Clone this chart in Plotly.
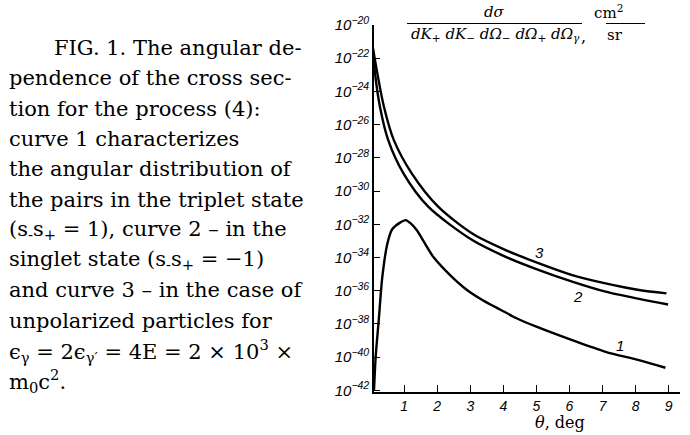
import plotly.graph_objects as go

# ---- data ----
theta_1 = [0.09, 0.14, 0.24, 0.34, 0.49, 0.64, 0.88, 1.05, 1.2, 1.38, 1.88, 2.39, 2.89, 3.39, 3.9, 4.4, 5.0, 6.08, 7.09, 8.1, 8.9]
sigma_1 = [1.0e-42, 1.0e-40, 2.5e-38, 6.3e-36, 6.3e-34, 5.0e-33, 1.26e-32, 1.78e-32, 1.12e-32, 4.5e-33, 1.1e-34,
           8.7e-36, 1.15e-36, 2.6e-37, 7.4e-38, 2.2e-38, 6.8e-39, 1.05e-39, 2.1e-40, 6.6e-41, 2.3e-41]

theta_2 = [0.05, 0.12, 0.27, 0.52, 0.98, 1.73, 3.06, 4.07, 5.08, 6.08, 7.09, 8.1, 8.98]
sigma_2 = [5.0e-22, 1.26e-23, 1.2e-25, 1.17e-27, 1.17e-29, 1.15e-31, 1.12e-33, 1.1e-34, 1.74e-35, 3.5e-36,
           8.7e-37, 3.2e-37, 1.48e-37]

theta_3 = [0.05, 0.19, 0.39, 0.69, 1.23, 2.03, 3.06, 4.07, 5.08, 6.08, 7.09, 8.1, 8.93]
sigma_3 = [5.0e-22, 1.26e-23, 1.2e-25, 1.17e-27, 1.17e-29, 1.15e-31, 2.8e-33, 2.8e-34, 4.4e-35, 8.7e-36,
           2.75e-36, 1.1e-36, 6.9e-37]

x_ticks = [1, 2, 3, 4, 5, 6, 7, 8, 9]
y_tick_exps = [-20, -22, -24, -26, -28, -30, -32, -34, -36, -38, -40, -42]

curve_labels = ["1", "2", "3"]

caption_lines = [
    "FIG. 1. The angular de-",
    "pendence of the cross sec-",
    "tion for the process (4):",
    "curve 1 characterizes",
    "the angular distribution of",
    "the pairs in the triplet state",
    "(s<sub>-</sub>s<sub>+</sub> = 1), curve 2 \u2013 in the",
    "singlet state (s<sub>-</sub>s<sub>+</sub> = \u22121)",
    "and curve 3 \u2013 in the case of",
    "unpolarized particles for",
    "\u03f5<sub>\u03b3</sub> = 2\u03f5<sub>\u03b3\u2032</sub> = 4E = 2 \u00d7 10<sup>3</sup> \u00d7",
    "m<sub>0</sub>c<sup>2</sup>.",
]

# ---- layout geometry (page pixels) ----
W, H = 690, 435
L, R, T, B = 374, 10, 25, 43
PW, PH = W - L - R, H - T - B


def px(xp):
    return (xp - L) / PW


def py(yp):
    return (H - B - yp) / PH


fig = go.Figure()
for th, sg in [(theta_1, sigma_1), (theta_2, sigma_2), (theta_3, sigma_3)]:
    fig.add_trace(go.Scatter(x=th, y=sg, mode="lines",
                             line=dict(color="black", width=2.4, shape="spline", smoothing=0.8),
                             showlegend=False, hoverinfo="skip"))

ann = []
lab_pos = [(7.52, -39.3), (6.26, -36.35), (5.1, -33.7)]
for t, (x, y) in zip(curve_labels, lab_pos):
    ann.append(dict(x=x, y=y, xref="x", yref="y", text=t, showarrow=False,
                    font=dict(family="Liberation Sans", size=15, color="black", style="italic")))

cap_font = dict(family="DejaVu Serif", size=21, color="black")
for i, line in enumerate(caption_lines):
    xp = 52 if i == 0 else 7
    yp = 48 + i * 30.3
    ann.append(dict(x=px(xp), y=py(yp), xref="paper", yref="paper", xanchor="left", yanchor="middle",
                    text=line, showarrow=False, font=cap_font))

frac_font = dict(family="DejaVu Serif", size=15, color="black", style="italic")
ann.append(dict(x=px(494), y=py(12), xref="paper", yref="paper", text="d\u03c3", showarrow=False, font=frac_font,
                yanchor="middle"))
ann.append(dict(x=px(495), y=py(35), xref="paper", yref="paper", yanchor="middle",
                text="dK<sub>+</sub> dK<sub>\u2212</sub> d\u03a9<sub>\u2212</sub> d\u03a9<sub>+</sub> d\u03a9<sub>\u03b3</sub>",
                showarrow=False, font=dict(family="DejaVu Serif", size=15, color="black", style="italic")))
ann.append(dict(x=px(588), y=py(36), xref="paper", yref="paper", text=",", showarrow=False, yanchor="middle",
                font=dict(family="DejaVu Serif", size=16, color="black")))
ann.append(dict(x=px(625), y=py(12), xref="paper", yref="paper", text="cm<sup>2</sup>", showarrow=False,
                yanchor="middle", font=dict(family="DejaVu Serif", size=15, color="black")))
ann.append(dict(x=px(625), y=py(35), xref="paper", yref="paper", text="sr", showarrow=False, yanchor="middle",
                font=dict(family="DejaVu Serif", size=15, color="black")))
ann.append(dict(x=px(560), y=py(422), xref="paper", yref="paper", text="<i>\u03b8</i>, deg", showarrow=False,
                yanchor="middle", font=dict(family="DejaVu Serif", size=16, color="black")))

shapes = [
    dict(type="line", xref="paper", yref="paper", x0=px(407), x1=px(582), y0=py(23.5), y1=py(23.5),
         line=dict(color="black", width=1.2)),
    dict(type="line", xref="paper", yref="paper", x0=px(606), x1=px(645), y0=py(23.5), y1=py(23.5),
         line=dict(color="black", width=1.2)),
]

fig.update_layout(
    width=W, height=H, margin=dict(l=L, r=R, t=T, b=B),
    paper_bgcolor="white", plot_bgcolor="white",
    annotations=ann, shapes=shapes,
    xaxis=dict(range=[0.09, 9.34], tickvals=x_ticks, ticktext=[str(v) for v in x_ticks],
               ticks="inside", ticklen=7, tickwidth=1.3, tickcolor="black",
               showline=True, linecolor="black", linewidth=1.6, showgrid=False, zeroline=False,
               tickfont=dict(family="Liberation Sans", size=14, color="black", style="italic")),
    yaxis=dict(type="log", range=[-42.1, -20], tickvals=[10.0 ** e for e in y_tick_exps],
               ticktext=["10<sup>\u2212%d</sup>" % (-e) for e in y_tick_exps],
               ticks="inside", ticklen=6, tickwidth=1.3, tickcolor="black",
               showline=True, linecolor="black", linewidth=1.6, showgrid=False, zeroline=False,
               tickfont=dict(family="Liberation Sans", size=15, color="black", style="italic")),
)

fig.write_html("out.html", config={"displayModeBar": False},
               post_script="document.body.style.margin='0';")
